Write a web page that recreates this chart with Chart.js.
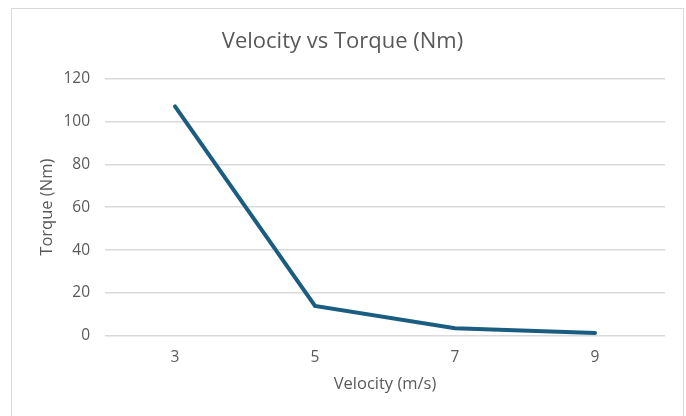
<!DOCTYPE html>
<html>
<head>
<meta charset="utf-8">
<script src="https://cdn.jsdelivr.net/npm/chart.js@4"></script>
<style>
  html, body { margin: 0; padding: 0; background: #fff; }
  #wrap { position: relative; width: 686px; height: 416px; overflow: hidden; }
  #frame {
    position: absolute; left: 11px; top: 8px; width: 673px; height: 430px;
    border: 1px solid #d9d9d9; box-sizing: border-box;
  }
  canvas { position: absolute; left: 0; top: 0; }
</style>
</head>
<body>
<div id="wrap">
  <div id="frame"></div>
  <canvas id="chart" width="686" height="416"></canvas>
</div>
<script>
// datos
const velocityLabels = ["3", "5", "7", "9"];
const torqueValues = [107, 14, 3.6, 1.4];
const yTicks = [0, 20, 40, 60, 80, 100, 120];

const textColor = "#595959";
const gridColor = "#d9d9d9";
const fontFamily = "'Open Sans', sans-serif";

const ctx = document.getElementById("chart").getContext("2d");

new Chart(ctx, {
  type: "line",
  data: {
    labels: velocityLabels,
    datasets: [
      {
        label: "Torque (Nm)",
        data: torqueValues,
        borderColor: "#1b5d80",
        backgroundColor: "#1b5d80",
        borderWidth: 4,
        borderCapStyle: "round",
        pointRadius: 0,
        tension: 0,
      },
    ],
  },
  options: {
    responsive: false,
    animation: false,
    layout: { padding: { left: 20, right: 21, top: 10, bottom: 20 } },
    plugins: {
      legend: { display: false },
      tooltip: { enabled: false },
      title: {
        display: true,
        text: "Velocity vs Torque (Nm)",
        color: textColor,
        font: { family: fontFamily, size: 22, weight: "normal" },
        padding: { top: 19, bottom: 23 },
      },
    },
    scales: {
      x: {
        offset: true,
        grid: { display: false, drawTicks: false },
        border: { display: false },
        ticks: {
          color: textColor,
          font: { family: fontFamily, size: 15.5 },
          padding: 12,
        },
        title: {
          display: true,
          text: "Velocity (m/s)",
          color: textColor,
          font: { family: fontFamily, size: 16.5 },
          padding: { top: 4, bottom: 2 },
        },
        afterFit: (scale) => {
          scale.height = 60;
        },
      },
      y: {
        min: 0,
        max: 120,
        afterBuildTicks: (scale) => {
          scale.ticks = yTicks.map((v) => ({ value: v }));
        },
        grid: { color: gridColor, lineWidth: 1.5, drawTicks: false },
        border: { display: false },
        ticks: {
          color: textColor,
          font: { family: fontFamily, size: 15.5 },
          padding: 15,
        },
        title: {
          display: true,
          text: "Torque (Nm)",
          color: textColor,
          font: { family: fontFamily, size: 16.5 },
          padding: { top: 17, bottom: 4 },
        },
        afterFit: (scale) => {
          scale.width = 85;
        },
      },
    },
  },
});
</script>
</body>
</html>
